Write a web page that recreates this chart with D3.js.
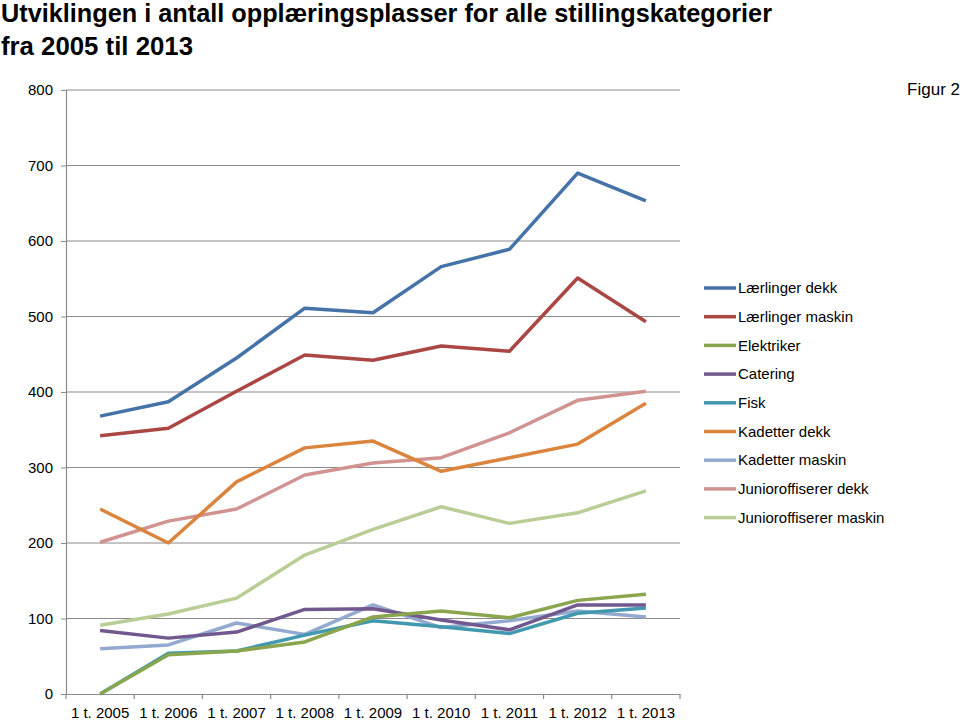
<!DOCTYPE html>
<html><head><meta charset="utf-8">
<script src="https://cdn.jsdelivr.net/npm/d3@7"></script>
<style>body{margin:0;background:#fff}</style>
</head><body>
<script>
const categories = ["1 t. 2005","1 t. 2006","1 t. 2007","1 t. 2008","1 t. 2009","1 t. 2010","1 t. 2011","1 t. 2012","1 t. 2013"];
const seriesNames = ["Lærlinger dekk","Lærlinger maskin","Elektriker","Catering","Fisk","Kadetter dekk","Kadetter maskin","Junioroffiserer dekk","Junioroffiserer maskin"];
const laerlingerDekk   = [368,387,445,511,505,566,589,690,653];
const laerlingerMaskin = [342,352,401,449,442,461,454,551,493];
const elektriker       = [0,52,57,69,102,110,101,124,132];
const catering         = [84,74,82,112,113,98,85,118,118];
const fisk             = [0,54,57,78,97,89,80,107,114];
const kadetterDekk     = [245,200,281,326,335,295,313,331,385];
const kadetterMaskin   = [60,65,94,79,118,88,97,110,102];
const juniorDekk       = [201,229,245,290,306,313,346,389,401];
const juniorMaskin     = [91,106,127,184,218,248,226,240,269];
const yTicks = [0,100,200,300,400,500,600,700,800];
const colors = ["#4572A7","#AA4643","#89A54E","#71588F","#4198AF","#DB843D","#93A9CF","#D19392","#B9CD96"];
const seriesValues = [laerlingerDekk,laerlingerMaskin,elektriker,catering,fisk,kadetterDekk,kadetterMaskin,juniorDekk,juniorMaskin];

const W=960,H=720;
const svg=d3.select("body").append("svg").attr("width",W).attr("height",H);
const font="Carlito, 'Liberation Sans Narrow', 'Open Sans', sans-serif";

// title
svg.append("text").attr("x",1).attr("y",22).text("Utviklingen i antall opplæringsplasser for alle stillingskategorier")
  .attr("font-family","'Liberation Sans Narrow', 'Arial Narrow', sans-serif").attr("font-weight","bold").attr("font-size",25)
  .attr("textLength",771).attr("lengthAdjust","spacingAndGlyphs");
svg.append("text").attr("x",1).attr("y",55).text("fra 2005 til 2013")
  .attr("font-family","'Liberation Sans Narrow', 'Arial Narrow', sans-serif").attr("font-weight","bold").attr("font-size",25)
  .attr("textLength",192).attr("lengthAdjust","spacingAndGlyphs");
svg.append("text").attr("x",960).attr("y",95).attr("text-anchor","end").text("Figur 2")
  .attr("font-family","'Liberation Sans Narrow', sans-serif").attr("font-size",17);

const x=d3.scaleBand().domain(categories).range([66,680]);
const y=d3.scaleLinear().domain([0,800]).range([694,90]);

// gridlines
svg.append("g").selectAll("line").data(yTicks.filter(d=>d>0)).join("line")
  .attr("x1",66).attr("x2",680).attr("y1",d=>y(d)).attr("y2",d=>y(d))
  .attr("stroke","#8a8a8a").attr("stroke-width",1.2);

// y axis
const ya=svg.append("g").attr("transform","translate(66,0)")
  .call(d3.axisLeft(y).tickValues(yTicks).tickSize(5).tickPadding(8).tickFormat(d3.format("d")));
ya.select(".domain").attr("stroke","#8a8a8a").attr("stroke-width",1.2);
ya.selectAll(".tick line").attr("stroke","#8a8a8a");
ya.selectAll("text").attr("font-family","'Liberation Sans Narrow', sans-serif").attr("font-size",15).attr("fill","#000");

// x axis
const xa=svg.append("g").attr("transform","translate(0,694)")
  .call(d3.axisBottom(x).tickSize(0).tickPadding(13).tickSizeOuter(0));
xa.select(".domain").attr("stroke","#8a8a8a").attr("stroke-width",1.2);
xa.selectAll("text").attr("font-family","'Liberation Sans Narrow', sans-serif").attr("font-size",15).attr("fill","#000");
svg.append("g").selectAll("line").data(categories.concat([null])).join("line")
  .attr("x1",(d,i)=>66+i*x.step()).attr("x2",(d,i)=>66+i*x.step())
  .attr("y1",694).attr("y2",699).attr("stroke","#8a8a8a").attr("stroke-width",1.2);

// lines
const line=d3.line().x((d,i)=>x(categories[i])+x.bandwidth()/2).y(d=>y(d));
const order=[8,7,6,5,4,3,2,1,0];
svg.append("g").selectAll("path").data(order).join("path")
  .attr("d",i=>line(seriesValues[i])).attr("fill","none")
  .attr("stroke",i=>colors[i]).attr("stroke-width",3.5).attr("stroke-linejoin","round");

// legend
const lg=svg.append("g");
seriesNames.forEach((n,i)=>{
  const yy=288+i*28.7;
  lg.append("line").attr("x1",704).attr("x2",736).attr("y1",yy).attr("y2",yy).attr("stroke",colors[i]).attr("stroke-width",3.5);
  lg.append("text").attr("x",738).attr("y",yy).attr("dy","0.35em").text(n)
    .attr("font-family","'Liberation Sans Narrow', sans-serif").attr("font-size",15);
});
</script>
</body></html>
